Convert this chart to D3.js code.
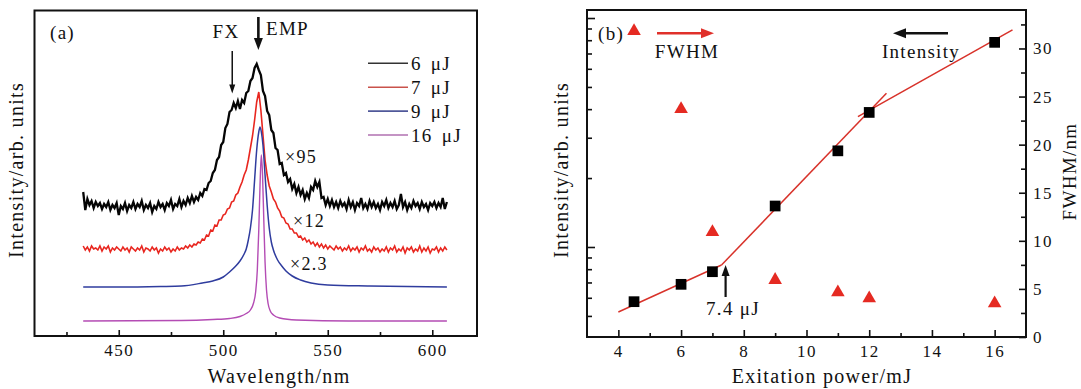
<!DOCTYPE html>
<html><head><meta charset="utf-8">
<script src="https://cdn.jsdelivr.net/npm/d3@7"></script>
<style>
body{margin:0;background:#fff}
svg text{font-family:'Liberation Serif','DejaVu Serif',serif !important;fill:#111}
</style>
</head><body>
<svg id="c" width="1081" height="389"></svg>
<script>
// ---------- Panel (a) data: spectra (arb. units) ----------
const wlStart = 433, wlEnd = 607;           // 1 nm sampling grid for noisy spectra
const black6 = [
144,126,137,131,135,128,134,130,133,127,
132,129,134,126,131,128,133,121,130,127,
133,125,131,128,134,127,132,129,135,126,
131,128,133,124,130,127,134,129,132,126,
133,130,136,127,132,130,137,129,135,131,
138,133,140,134,139,136,143,140,147,146,
153,155,163,166,176,179,191,194,208,212,
224,226,233,228,235,227,236,233,243,245,
255,258,268,272,266,261,245,240,225,221,
206,203,188,186,172,173,161,163,154,157,
147,152,143,149,141,146,137,143,138,149,
146,155,149,154,138,139,131,137,130,136,
129,134,128,135,130,133,127,136,129,134,
126,133,130,138,128,132,127,135,129,134,
128,132,126,134,130,136,128,133,129,135,
127,131,142,129,134,126,132,128,135,130,
133,127,134,129,132,126,133,130,134,128,
133,129,138,127,134];
const red7 = [
90,86,89,85,90,87,88,86,90,85,
89,87,90,84,88,86,89,87,85,89,
86,88,84,89,87,85,88,86,90,84,
88,87,85,89,86,88,83,87,85,89,
86,88,84,87,85,89,86,88,87,90,
88,91,89,92,91,94,93,97,96,101,
100,106,105,111,110,116,116,121,122,127,
128,134,135,141,143,149,154,161,166,176,
188,200,216,234,244,226,201,176,161,150,
144,137,134,128,125,119,118,113,112,107,
107,103,103,99,100,96,98,94,96,92,
94,90,93,89,92,88,91,87,90,88,
86,90,87,89,85,88,86,90,85,88,
86,89,84,88,86,90,85,87,84,89,
86,88,84,87,85,89,84,88,86,90,
84,87,85,89,83,88,86,89,84,87,
85,90,84,88,85,89,83,87,86,89,
84,88,85,89,86];
const blueWl = [433,450,470,480,490,495,500,503,506,508,510,511,512,513,514,515,516,517,517.6,518.3,519,520,521,522,523,524,526,528,530,533,537,542,550,570,607];
const blue9  = [49,49,49.5,50,53,55,59,64,70,75,82,87,96,108,126,156,186,204,209,203,191,161,131,108,94,86,76,70,65,60,56,53,51,50,49];
const magWl  = [433,480,495,503,508,511,513,514.5,515.5,516.3,517,517.6,518.2,518.8,519.4,520,520.7,521.5,522.5,524,527,535,560,607];
const mag16  = [15,15.5,16.5,17.5,19.5,22.5,26,33,44,66,106,151,181,161,116,74,46,32,25,21,18,16,15,15];
const legendA = ["6 \u03bcJ","7 \u03bcJ","9 \u03bcJ","16 \u03bcJ"];
const factorsA = ["\u00d795","\u00d712","\u00d72.3"];
const aTicks = [450,500,550,600];
const aMinor = [425,475,525,575];

// ---------- Panel (b) data ----------
const powers    = [4.5,6,7,9,11,12,16];
const intensity = [0.577,0.687,0.780,1.51,2.63,3.87,7.83];
const fwhm      = [31.8,23.7,10.9,5.93,4.65,4.02,3.50];
const fit1X = [4.0,7.29],  fit1Y = [0.520,0.834];
const fit2X = [7.29,12.55], fit2Y = [0.834,4.69];
const fit3X = [11.64,16.57], fit3Y = [3.71,8.87];
const threshold = 7.42;
const bTicks = [4,6,8,10,12,14,16];
const bMinor = [5,7,9,11,13,15];
const rTicks = [0,5,10,15,20,25,30];
const rMinor = [2.5,7.5,12.5,17.5,22.5,27.5,32.5];
const lMajor = [1,10];
const lMinor = [0.5,0.6,0.7,0.8,0.9,2,3,4,5,6,7,8,9];

const svg = d3.select("#c");
svg.append("rect").attr("width",1081).attr("height",389).attr("fill","#fff");

const SERIF = "'Liberation Serif','DejaVu Serif',serif";
function styleAxis(g, size){
  g.attr("font-family",SERIF).attr("font-size",size);
  g.select(".domain").remove();
  g.selectAll(".tick line").attr("stroke","#111").attr("stroke-width",1.6);
  g.selectAll(".tick text").attr("fill","#111").style("font-family",SERIF).style("letter-spacing","1.5px");
}
function txt(g, x, y, s, size, anchor, rot){
  const t = g.append("text").text(s).attr("font-size",size).style("font-family",SERIF)
    .attr("text-anchor",anchor||"start").style("letter-spacing","1.3px");
  if(rot){ t.attr("transform",`translate(${x},${y}) rotate(${rot})`).attr("dominant-baseline","central"); }
  else t.attr("x",x).attr("y",y);
  return t;
}
function arrow(g,x1,y1,x2,y2,color,w,hl,hw){
  const dx=x2-x1, dy=y2-y1, L=Math.hypot(dx,dy), ux=dx/L, uy=dy/L;
  const bx=x2-ux*hl, by=y2-uy*hl;
  g.append("line").attr("x1",x1).attr("y1",y1).attr("x2",bx+ux*1).attr("y2",by+uy*1)
    .attr("stroke",color).attr("stroke-width",w);
  g.append("path").attr("d",`M${x2},${y2}L${bx-uy*hw/2},${by+ux*hw/2}L${bx+uy*hw/2},${by-ux*hw/2}Z`)
    .attr("fill",color);
}

// ================= Panel (a) =================
const xA = d3.scaleLinear().domain([409.7,621.4]).range([34.5,477]);
const yA = d3.scaleLinear().domain([0,326]).range([336,10]);
const gA = svg.append("g");
const grid = d3.range(wlStart, wlEnd+1);
const seriesA = [
  {x:grid,   y:black6, c:"#050505", w:2.3, curve:d3.curveLinear,   lc:"#333"},
  {x:grid,   y:red7,   c:"#e8261f", w:1.6, curve:d3.curveLinear,   lc:"#c9524b"},
  {x:blueWl, y:blue9,  c:"#2f3c9e", w:1.5, curve:d3.curveMonotoneX, lc:"#50589a"},
  {x:magWl,  y:mag16,  c:"#b44cb4", w:1.4, curve:d3.curveMonotoneX, lc:"#b070b0"}
];
seriesA.forEach(s=>{
  const pts = s.x.map((v,i)=>[v,s.y[i]]);
  gA.append("path").datum(pts)
    .attr("d", d3.line().curve(s.curve).x(d=>xA(d[0])).y(d=>yA(d[1])))
    .attr("fill","none").attr("stroke",s.c).attr("stroke-width",s.w).attr("stroke-linejoin","miter");
});
// axes (a)
gA.append("g").attr("transform","translate(0,336)")
  .call(d3.axisBottom(xA).tickValues(aTicks).tickSize(-6).tickPadding(8))
  .call(g=>styleAxis(g,17));
gA.append("g").attr("transform","translate(0,336)")
  .call(d3.axisBottom(xA).tickValues(aMinor).tickSize(-4).tickFormat(""))
  .call(g=>styleAxis(g,17));
gA.append("rect").attr("x",34.5).attr("y",10.5).attr("width",442.5).attr("height",325.5)
  .attr("fill","none").attr("stroke","#111").attr("stroke-width",2);
// legend (a)
legendA.forEach((l,i)=>{
  const y = 63.3 + i*23.9;
  gA.append("line").attr("x1",368).attr("x2",408).attr("y1",y).attr("y2",y)
    .attr("stroke",seriesA[i].lc).attr("stroke-width",1.6);
  txt(gA,411,y+6.5,l,19).style("word-spacing","3px");
});
// annotations (a)
txt(gA,50,39,"(a)",19);
txt(gA,226,38,"FX",19,"middle");
txt(gA,266,35,"EMP",19);
arrow(gA,xA(504.3),51,xA(504.3),93.5,"#111",1.5,9,6);
arrow(gA,xA(516.8),17,xA(516.8),50,"#111",2.6,12,9);
txt(gA,285,163,factorsA[0],18);
txt(gA,293,226.5,factorsA[1],18);
txt(gA,290,270,factorsA[2],18);
// titles (a)
txt(gA,279,383,"Wavelength/nm",20,"middle");
txt(gA,15.5,170,"Intensity/arb. units",20,"middle",-90);

// ================= Panel (b) =================
const xB = d3.scaleLinear().domain([3,17]).range([587,1026]);
const yBL = d3.scaleLog().domain([0.4045,10.84]).range([337,10]);
const yBR = d3.scaleLinear().domain([0,34]).range([337,10]);
const gB = svg.append("g");

gB.append("g").attr("transform","translate(0,337)")
  .call(d3.axisBottom(xB).tickValues(bTicks).tickSize(-7).tickPadding(8))
  .call(g=>styleAxis(g,17));
gB.append("g").attr("transform","translate(0,337)")
  .call(d3.axisBottom(xB).tickValues(bMinor).tickSize(-4).tickFormat(""))
  .call(g=>styleAxis(g,17));
gB.append("g").attr("transform","translate(1026,0)")
  .call(d3.axisRight(yBR).tickValues(rTicks).tickSize(-7).tickPadding(7))
  .call(g=>styleAxis(g,17));
gB.append("g").attr("transform","translate(1026,0)")
  .call(d3.axisRight(yBR).tickValues(rMinor).tickSize(-5).tickFormat(""))
  .call(g=>styleAxis(g,17));
gB.append("g").attr("transform","translate(587,0)")
  .call(d3.axisLeft(yBL).tickValues(lMajor).tickSize(-8).tickFormat(""))
  .call(g=>styleAxis(g,17));
gB.append("g").attr("transform","translate(587,0)")
  .call(d3.axisLeft(yBL).tickValues(lMinor).tickSize(-5).tickFormat(""))
  .call(g=>styleAxis(g,17));
gB.append("rect").attr("x",587).attr("y",10).attr("width",439).attr("height",327)
  .attr("fill","none").attr("stroke","#111").attr("stroke-width",2);

// fit lines
[[fit1X,fit1Y],[fit2X,fit2Y],[fit3X,fit3Y]].forEach(([fx,fy])=>{
  gB.append("path").datum(fx.map((v,i)=>[v,fy[i]]))
    .attr("d", d3.line().x(d=>xB(d[0])).y(d=>yBL(d[1])))
    .attr("fill","none").attr("stroke","#d8322a").attr("stroke-width",1.5);
});
// intensity squares
gB.selectAll(".sq").data(powers).join("path")
  .attr("transform",(d,i)=>`translate(${xB(d)},${yBL(intensity[i])})`)
  .attr("d", d3.symbol(d3.symbolSquare,115)()).attr("fill","#000");
// FWHM triangles
gB.selectAll(".tr").data(powers).join("path")
  .attr("transform",(d,i)=>`translate(${xB(d)},${yBR(fwhm[i])})`)
  .attr("d", d3.symbol(d3.symbolTriangle,80)()).attr("fill","#e52a22");

// annotations (b)
txt(gB,598,39.5,"(b)",19);
arrow(gB,657,33.3,714,33.3,"#e0302a",2.6,13,10);
txt(gB,687,58,"FWHM",19,"middle");
arrow(gB,948,33.3,893,33.3,"#111",2.6,13,10);
txt(gB,921,58,"Intensity",19,"middle");
arrow(gB,xB(threshold),297,xB(threshold),265,"#111",2.2,11,8);
txt(gB,733,314.5,"7.4 \u03bcJ",19,"middle");
// titles (b)
txt(gB,822,383,"Exitation power/mJ",20,"middle");
txt(gB,560.7,170,"Intensity/arb. units",20,"middle",-90);
txt(gB,1069.5,171.5,"FWHM/nm",19,"middle",-90);
</script>
</body></html>
